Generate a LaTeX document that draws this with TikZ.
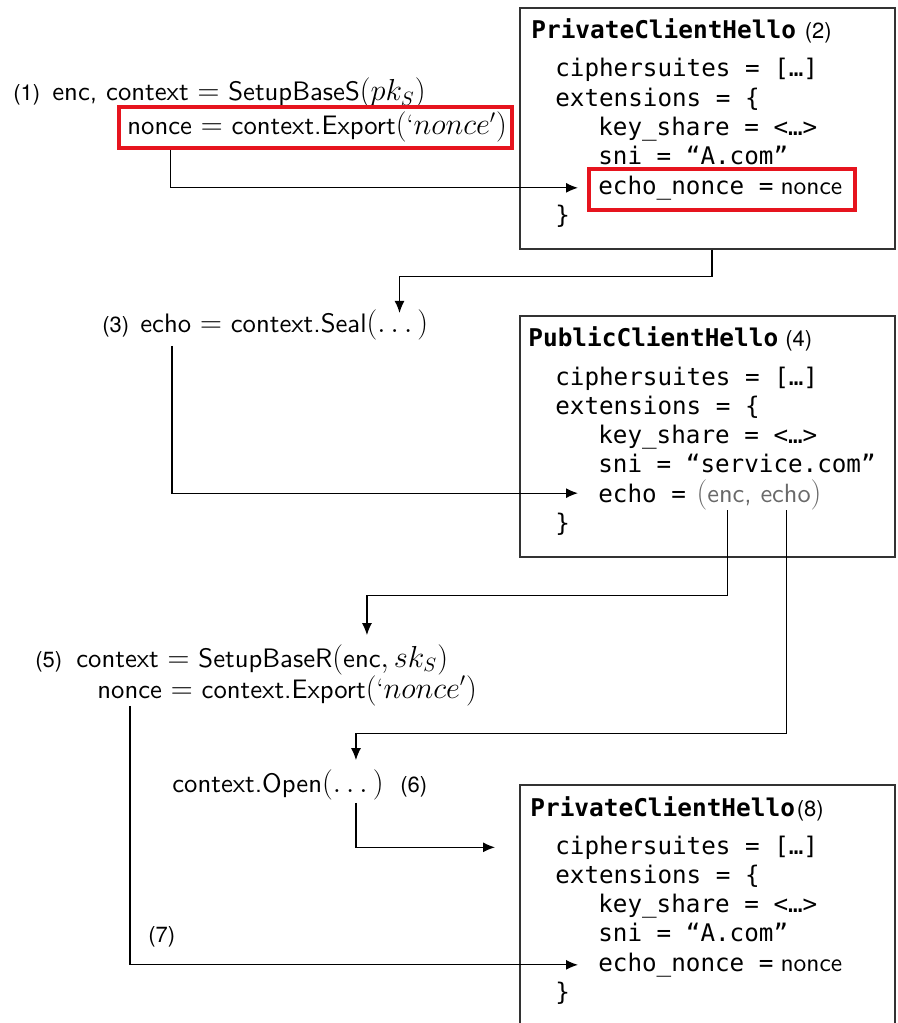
\documentclass[tikz,border=0pt]{standalone}
\usepackage{fontspec}
\setmonofont{DejaVu Sans Mono}
\setsansfont{lmsans10-regular.otf}
\newfontfamily\stepfont{TeX Gyre Heros}
\usetikzlibrary{arrows.meta,positioning,fit}
\definecolor{echored}{RGB}{230,20,30}
\definecolor{pairgray}{RGB}{105,105,105}
\newcommand{\stepref}[1]{{\stepfont\mdseries\fontsize{12.5}{15}\selectfont(#1)}}
\newcommand{\valsf}[1]{{\sffamily\mdseries\fontsize{14.5}{16}\selectfont #1}}
\newcommand{\mth}[1]{{\fontsize{16}{18}\selectfont$#1$}}
\tikzset{
  msgbox/.style={draw=black!80, line width=0.8pt, inner sep=0pt},
  hilite/.style={draw=echored, line width=1.8pt, inner sep=0pt},
  flow/.style={-{Latex[length=2.4mm,width=2mm]}, line width=0.7pt},
  codeln/.style={anchor=base west, inner sep=0pt, font=\ttfamily\fontsize{13.8}{16}\selectfont},
  msghead/.style={anchor=base west, inner sep=0pt, font=\ttfamily\bfseries\fontsize{13.9}{16}\selectfont},
  eqn/.style={anchor=base west, inner sep=0pt, font=\sffamily\fontsize{15.2}{18}\selectfont},
  stepno/.style={anchor=base west, inner sep=0pt, font=\stepfont\fontsize{12.5}{15}\selectfont},
}

\begin{document}
\begin{tikzpicture}[x=0.02cm,y=-0.02cm]
\useasboundingbox (0,0) rectangle (897,1023);

% client side: HPKE setup and export
\node[stepno] (stepOne) at (13,101) {(1)};
\node[eqn] (setupS) at (52,101) {enc, context \mth{=} SetupBaseS\mth{(pk_S)}};
\node[eqn] (nonceA) at (127,135) {nonce \mth{=} context.Export\mth{(\mbox{\rmfamily ‘}nonce')}};
\node[hilite, fit={(119,107) (512,148)}] (redA) {};

% PrivateClientHello (2)
\node[msgbox, fit={(520,8) (895,249)}] (boxA) {};
\node[msghead] (hdrA) at (531,39) {PrivateClientHello\kern5pt\stepref{2}};
\node[codeln] (cipherA) at (555,77) {ciphersuites = […]};
\node[codeln] (extA) at (555,106.3) {extensions = \{};
\node[codeln] (keyA) at (598,135.6) {key\_share = <…>};
\node[codeln] (sniA) at (598,164.9) {sni = “A.com”};
\node[codeln] (echoNA) at (598,194.2) {echo\_nonce =\kern4pt\valsf{nonce}};
\node[codeln] (closeA) at (555,223.5) {\}};
\node[hilite, fit={(589,169) (855,210)}] (redB) {};

% seal
\node[stepno] (stepThree) at (102,333) {(3)};
\node[eqn] (sealEq) at (140,333) {echo \mth{=} context.Seal\mth{(\ldots\,)}};

% PublicClientHello (4)
\node[msgbox, fit={(520,316) (895,557)}] (boxB) {};
\node[msghead] (hdrB) at (528,347) {PublicClientHello\kern4pt\stepref{4}};
\node[codeln] (cipherB) at (555,385) {ciphersuites = […]};
\node[codeln] (extB) at (555,414.3) {extensions = \{};
\node[codeln] (keyB) at (598,443.6) {key\_share = <…>};
\node[codeln] (sniB) at (598,472.9) {sni = “service.com”};
\node[codeln] (echoB) at (598,502.2) {echo =};
\node[eqn, text=pairgray, font=\sffamily\fontsize{15}{17}\selectfont] (pairB) at ([xshift=0.2cm]echoB.base east) {\mth{(}enc, echo\mth{)}};
\node[codeln] (closeB) at (555,531.5) {\}};

% server side
\node[stepno] (stepFive) at (35,667) {(5)};
\node[eqn] (setupR) at (76,667) {context \mth{=} SetupBaseR\mth{(}enc\mth{, sk_S)}};
\node[eqn] (nonceR) at (97,698) {nonce \mth{=} context.Export\mth{(\mbox{\rmfamily ‘}nonce')}};
\node[eqn] (openEq) at (172,792) {context.Open\mth{(\ldots\,)}};
\node[stepno] (stepSix) at (400,792) {(6)};
\node[stepno] (stepSeven) at (148,942) {(7)};

% PrivateClientHello (8)
\draw[black!80, line width=0.8pt] (520,1023) |- (895,785) -- (895,1023);
\node[msghead] (hdrC) at (530,816) {PrivateClientHello\kern1pt\stepref{8}};
\node[codeln] (cipherC) at (555,854) {ciphersuites = […]};
\node[codeln] (extC) at (555,883.3) {extensions = \{};
\node[codeln] (keyC) at (598,912.6) {key\_share = <…>};
\node[codeln] (sniC) at (598,941.9) {sni = “A.com”};
\node[codeln] (echoNC) at (598,971.2) {echo\_nonce =\kern4pt\valsf{nonce}};
\node[codeln] (closeC) at (555,1000.5) {\}};

% connectors
\draw[flow, shorten >=0.4cm] ([xshift=1.06cm]redA.south west) |- (echoNA.west);
\draw[flow] ([xshift=0.09cm]boxA.south) -- ++(0,27) -| ([xshift=-0.58cm,yshift=-0.06cm]sealEq.north east);
\draw[flow, shorten >=0.4cm] ([xshift=0.64cm,yshift=-0.1cm]sealEq.south west) |- (echoB.west);
\draw[flow, shorten >=5pt] ([xshift=0.62cm]pairB.south west) -- ++(0,85) -| ([xshift=5.82cm]setupR.north west);
\draw[flow, shorten >=5pt] ([xshift=1.8cm]pairB.south west) -- ++(0,223) -| ([xshift=3.68cm]openEq.north west);
\draw[flow, shorten >=1.2cm] ([xshift=3.68cm,yshift=-0.06cm]openEq.south west) |- (cipherC.west);
\draw[flow, shorten >=0.4cm] ([xshift=0.66cm]nonceR.south west) |- (echoNC.west);
\end{tikzpicture}
\end{document}
